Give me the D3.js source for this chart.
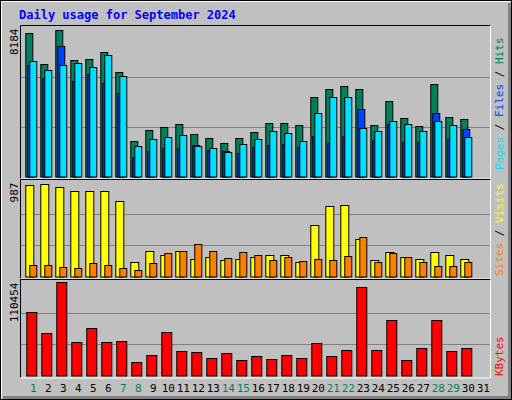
<!DOCTYPE html>
<html><head><meta charset="utf-8">
<script src="https://cdn.jsdelivr.net/npm/d3@7"></script>
<style>body{margin:0;background:#fff}text{font-family:"DejaVu Sans Mono",monospace}</style>
</head><body><div id="chart"></div>
<script>
const days = d3.range(1, 32)
const weekend = [1, 7, 8, 14, 15, 21, 22, 28, 29]
// values (day 31 empty)
const hits = [7878,6187,8042,6405,6460,6842,5751,1931,2532,2695,2859,2313,2095,1822,2095,2422,2914,2914,2804,4387,4823,4987,4823,2804,4168,3186,2750,5096,3241,3132,0]
const files = [6133,5423,7169,5260,5641,5150,4605,1058,1386,1550,1550,1713,1440,1386,1277,1604,1713,1768,1604,2204,1822,2204,3732,1986,2859,1877,1877,3514,2041,2586,0]
const pages = [6351,5860,6133,6242,6023,6678,5532,1659,2041,2150,2259,1659,1550,1331,1768,2041,2477,2368,1931,3514,4387,4387,2641,2477,3023,2859,2477,3023,2804,2150,0]
const visits = [959,970,938,896,896,896,791,151,266,224,266,182,203,172,182,203,224,224,151,539,739,749,392,172,256,203,182,256,224,182,0]
const sites = [119,119,98,88,140,119,88,67,140,245,266,340,266,193,256,224,172,203,161,182,172,214,413,151,245,203,151,109,109,151,0]
const kbytes = [74977,49581,110454,39907,55629,39907,41117,15721,24186,50791,29024,27814,20558,26605,18140,22977,19349,24186,20558,38698,22977,30233,104000,30233,65304,18140,32651,65304,29024,32651,0]

const W = 512, H = 400
const svg = d3.select('#chart').append('svg').attr('width', W).attr('height', H)

// frame
svg.append('rect').attr('width', W).attr('height', H).attr('fill', '#c0c0c0')
svg.append('path').attr('d', `M1,${H-1}V1H${W-1}`).attr('stroke', '#fff').attr('stroke-width', 2).attr('fill', 'none')
svg.append('path').attr('d', `M3,${H-2}H${W-2}V3`).attr('stroke', '#808080').attr('stroke-width', 4).attr('fill', 'none')
svg.append('rect').attr('x', 0.5).attr('y', 0.5).attr('width', W-1).attr('height', H-1).attr('fill', 'none').attr('stroke', '#000')

svg.append('text').attr('x', 19).attr('y', 19).attr('fill', '#0000ff')
  .style('font-size', '12px').style('font-weight', 'bold').text('Daily usage for September 2024')

const x = d3.scaleBand().domain(days).range([25.3, 25.3 + 15 * 31])
const x0 = 20.5, x1 = 490.5

function panel(top, base, max, label) {
  svg.append('rect').attr('x', x0).attr('y', top).attr('width', x1 - x0).attr('height', base - top + 2)
    .attr('fill', '#c0c0c0')
  const y = d3.scaleLinear().domain([0, max]).range([base, top + 2 + (label.pad || 0)])
  ;[1/3, 2/3].forEach(f => svg.append('line').attr('x1', x0).attr('x2', x1)
    .attr('y1', Math.round(y(max * f)) + 0.5).attr('y2', Math.round(y(max * f)) + 0.5)
    .attr('stroke', '#808080'))
  svg.append('path').attr('d', `M${x0},${base+2}V${top}H${x1}`).attr('stroke', '#000').attr('fill', 'none')
  svg.append('path').attr('d', `M${x0},${base+2.5}H${x1}V${top}`).attr('stroke', '#fff').attr('fill', 'none')
  svg.append('text').attr('transform', `translate(18,${top + 3}) rotate(-90)`)
    .attr('text-anchor', 'end').style('font-size', '11px').attr('fill', '#000').text(max)
  return y
}

function bars(y, data, off, w, color) {
  svg.append('g').selectAll('rect').data(data).join('rect')
    .filter(d => d > 0)
    .attr('x', (d, i) => x(days[i]) + off + 0.5)
    .attr('y', d => Math.round(y(d)) + 0.5)
    .attr('width', w)
    .attr('height', d => y(0) - Math.round(y(d)))
    .attr('fill', color).attr('stroke', '#000')
}

function sideLabel(parts, yStart) {
  const t = svg.append('text').attr('transform', `translate(503,${yStart}) rotate(-90)`)
    .style('font-size', '11px')
  parts.forEach(([s, c]) => t.append('tspan').attr('fill', c).text(s))
}

// hits / files / pages
const yTop = panel(25.5, 176.5, 8184, {})
bars(yTop, hits, 0, 7, '#00805c')
bars(yTop, files, 2, 7, '#0040ff')
bars(yTop, pages, 4, 7, '#00e0ff')
sideLabel([['Pages', '#00e0ff'], [' / ', '#000'], ['Files', '#0040ff'], [' / ', '#000'], ['Hits', '#00805c']], 170)

// visits / sites
const yMid = panel(179.5, 276.5, 987, { pad: 1 })
bars(yMid, visits, 0, 8, '#ffff00')
bars(yMid, sites, 4, 7, '#ff8000')
sideLabel([['Sites', '#ff8000'], [' / ', '#000'], ['Visits', '#ffff00']], 276)

// kbytes
const yBot = panel(279.5, 375.5, 110454, {})
bars(yBot, kbytes, 1, 10, '#ff0000')
sideLabel([['KBytes', '#ff0000']], 376)

svg.append('g').selectAll('text').data(days).join('text')
  .attr('x', d => x(d) + 8).attr('y', 392).attr('text-anchor', 'middle')
  .style('font-size', '11px')
  .attr('fill', d => weekend.includes(d) ? '#00805c' : '#000')
  .text(d => d)
</script></body></html>
